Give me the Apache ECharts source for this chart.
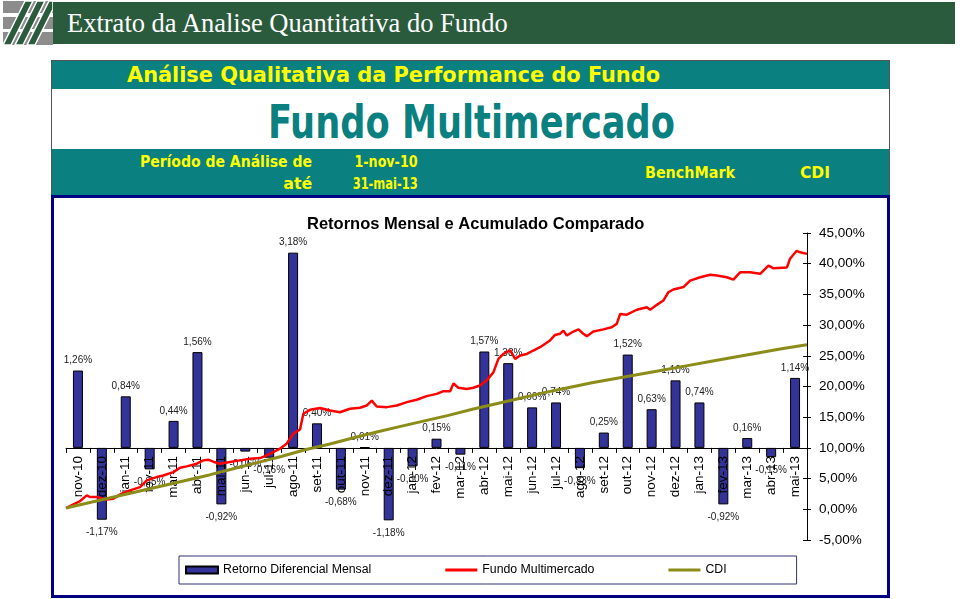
<!DOCTYPE html>
<html lang="pt">
<head>
<meta charset="utf-8">
<title>Extrato da Analise Quantitativa do Fundo</title>
<script src="https://cdn.jsdelivr.net/npm/echarts@6.0.0/dist/echarts.min.js"></script>
<style>
html,body{margin:0;padding:0;background:#fff}
body{width:960px;height:599px;position:relative;overflow:hidden}
.a{position:absolute;white-space:nowrap}
.fit{display:inline-block}
#hdrband{left:53px;top:2px;width:902px;height:42px;background:#2b5b3d}
#hdrtxt{left:67px;top:2px;height:42px;line-height:42px;color:#fff;font-family:"Liberation Serif","Times New Roman",serif;font-size:26.5px}
.teal{background:#0a8080}
.y{color:#ffff00;font-family:"DejaVu Sans Condensed","DejaVu Sans",sans-serif;font-weight:bold;font-stretch:condensed}
#box{left:51px;top:60px;width:839px;height:137px;box-sizing:border-box;border:1px solid #555}
#frame{left:51px;top:195px;width:839px;height:403px;box-sizing:border-box;border:3px solid #000080}
#chart{left:0;top:0;width:960px;height:599px}
</style>
</head>
<body>
<svg class="a" style="left:3px;top:1px" width="50" height="44" viewBox="0 0 50 44">
  <rect width="50" height="44" fill="#8c8c8c"/>
  <rect y="12" width="50" height="4" fill="#fff"/>
  <rect y="28" width="50" height="3" fill="#fff"/>
  <polygon points="0,44 8,44 30,0 22,0" fill="#2b5b3d" stroke="#fff" stroke-width="1.5"/>
  <polygon points="12,44 20,44 42,0 34,0" fill="#2b5b3d" stroke="#fff" stroke-width="1.5"/>
  <polygon points="24,44 32,44 50,8 50,0 46,0" fill="#2b5b3d" stroke="#fff" stroke-width="1.5"/>
</svg>
<div id="hdrband" class="a"></div>
<div id="hdrtxt" class="a">Extrato da Analise Quantitativa do Fundo</div>

<div id="box" class="a"></div>
<div class="a teal" style="left:52px;top:61px;width:837px;height:28px"></div>
<div class="a y" style="left:127px;top:61px;height:28px;line-height:28px;font-size:21px"><span class="fit" data-w="533" data-o="left">Análise Qualitativa da Performance do Fundo</span></div>
<div class="a" style="left:268px;top:96px;height:52px;line-height:52px;font-size:46px;color:#0a8080;font-family:'DejaVu Sans Condensed','DejaVu Sans',sans-serif;font-weight:bold;font-stretch:condensed"><span class="fit" data-w="407" data-o="left">Fundo Multimercado</span></div>
<div class="a teal" style="left:52px;top:149px;width:837px;height:47px"></div>
<div class="a y" style="right:648px;top:152px;height:20px;line-height:20px;font-size:16px"><span class="fit" data-w="172" data-o="right">Período de Análise de</span></div>
<div class="a y" style="right:648px;top:174px;height:20px;line-height:20px;font-size:16px"><span class="fit" data-w="29" data-o="right">até</span></div>
<div class="a y" style="right:542px;top:152px;height:20px;line-height:20px;font-size:16px"><span class="fit" data-w="63" data-o="right">1-nov-10</span></div>
<div class="a y" style="right:542px;top:174px;height:20px;line-height:20px;font-size:16px"><span class="fit" data-w="65" data-o="right">31-mai-13</span></div>
<div class="a y" style="left:645px;top:163px;height:20px;line-height:20px;font-size:16px"><span class="fit" data-w="90" data-o="left">BenchMark</span></div>
<div class="a y" style="left:800px;top:163px;height:20px;line-height:20px;font-size:16px"><span class="fit" data-w="30" data-o="left">CDI</span></div>

<div id="frame" class="a"></div>
<div id="chart" class="a"></div>

<script>
// ---- dados ----
const meses = ['nov-10','dez-10','jan-11','fev-11','mar-11','abr-11','mai-11','jun-11','jul-11','ago-11',
  'set-11','out-11','nov-11','dez-11','jan-12','fev-12','mar-12','abr-12','mai-12','jun-12',
  'jul-12','ago-12','set-12','out-12','nov-12','dez-12','jan-13','fev-13','mar-13','abr-13','mai-13'];

const retornoDiferencial = [1.26,-1.17,0.84,-0.35,0.44,1.56,-0.92,-0.06,-0.16,3.18,
  0.40,-0.68,0.01,-1.18,-0.30,0.15,-0.11,1.57,1.38,0.66,
  0.74,-0.33,0.25,1.52,0.63,1.10,0.74,-0.92,0.16,-0.15,1.14];

// Fundo Multimercado acumulado (posição em meses desde 1-nov-10)
const fundoMes = [0,0.31,0.59,0.87,1.00,1.28,1.70,1.98,2.33,2.68,3.10,3.38,3.79,4.07,4.49,4.77,5.05,5.47,5.74,5.95,
  6.16,6.44,6.86,7.28,7.70,8.12,8.40,8.67,8.95,9.23,9.51,9.79,9.93,10.21,10.63,11.05,11.46,11.88,12.30,12.58,
  12.79,13.00,13.42,13.84,14.26,14.67,15.09,15.51,15.79,16.07,16.21,16.41,16.77,17.04,17.32,17.60,17.88,18.09,18.30,18.58,
  18.79,19.00,19.28,19.55,19.83,20.25,20.46,20.67,20.81,20.95,21.23,21.44,21.64,21.79,22.06,22.48,22.83,23.04,23.18,23.46,
  23.88,24.30,24.44,24.72,24.99,25.20,25.41,25.83,26.11,26.53,26.95,27.23,27.64,27.92,28.20,28.62,29.04,29.39,29.60,30.16,
  30.29,30.57,30.71,31.0];
const fundoAcum = [0.2,0.8,1.34,2.27,2.0,2.0,1.6,1.73,2.55,3.08,3.62,4.7,5.25,5.5,6.06,6.78,6.99,7.43,7.97,8.08,
  7.75,7.43,7.7,7.97,8.24,8.34,8.78,9.32,9.87,10.68,12.3,13.0,15.56,16.2,16.5,16.1,15.8,16.38,16.54,16.9,
  17.7,16.75,16.64,16.9,17.45,17.84,18.43,18.8,19.24,19.24,20.5,19.8,19.6,19.8,20.17,21.0,22.3,24.5,25.3,25.9,
  24.5,25.05,25.3,25.86,26.4,27.5,28.4,28.6,29.1,28.3,28.95,29.3,28.6,28.2,28.95,29.3,29.66,30.2,31.8,31.7,
  32.5,32.9,32.5,33.3,34.0,35.35,35.8,36.2,37.25,37.8,38.2,38.07,37.8,37.4,38.6,38.6,38.35,39.7,39.25,39.4,
  40.8,42.1,41.86,41.6];

// CDI acumulado (fim de cada mês)
const cdiMes = [0,1,2,3,4,5,6,7,8,9,10,11,12,13,14,15,16,17,18,19,20,21,22,23,24,25,26,27,28,29,30,31];
const cdiAcum = [0.2,1.1,2.0,2.9,3.8,4.7,5.6,6.6,7.6,8.6,9.7,10.6,11.6,12.6,13.5,14.4,15.3,16.3,17.2,18.1,
  19.0,19.8,20.6,21.3,22.0,22.7,23.4,24.1,24.8,25.5,26.2,26.8];

const nomes = ['Retorno Diferencial Mensal','Fundo Multimercado','CDI'];

// ---- ajuste de largura dos textos do cabeçalho ----
document.querySelectorAll('.fit').forEach(el => {
  const w = el.getBoundingClientRect().width;
  const t = +el.dataset.w;
  el.style.transformOrigin = (el.dataset.o === 'right' ? '100%' : '0') + ' 50%';
  el.style.transform = 'scaleX(' + (t / w) + ')';
});

// ---- gráfico ----
const fmt = v => v.toFixed(2).replace('.', ',') + '%';
const barData = retornoDiferencial.map(v => ({
  value: v,
  label: { position: v < 0 ? 'bottom' : 'top', distance: v < 0 ? 8 : 5 }
}));

const gridTop = 233, gridBottom = 59, gridHeight = 599 - gridTop - gridBottom;
const barMin = -1.5, barMax = 3.5;
// posição do eixo de categorias sobre o zero das barras
const zeroOffset = -gridHeight * (0 - barMin) / (barMax - barMin);
const lineIcon = 'path://M0,0H32V3H0Z';

const chart = echarts.init(document.getElementById('chart'), null, { renderer: 'canvas' });
chart.setOption({
  animation: false,
  backgroundColor: 'transparent',
  textStyle: { fontFamily: '"Liberation Sans", Arial, sans-serif' },
  title: {
    text: 'Retornos Mensal e Acumulado Comparado',
    left: 302, top: 211,
    textStyle: { fontSize: 16.5, fontWeight: 'bold', color: '#000', fontFamily: '"Liberation Sans", Arial, sans-serif' }
  },
  legend: {
    left: 179, top: 556,
    itemWidth: 32, itemHeight: 7, itemGap: 74,
    padding: [8, 70, 8, 6],
    borderColor: '#33337a', borderWidth: 1,
    symbolKeepAspect: true,
    textStyle: { fontSize: 12.3, color: '#000' },
    data: [
      { name: nomes[0], icon: 'rect' },
      { name: nomes[1], icon: lineIcon, itemStyle: { color: '#ff0000', borderWidth: 0 } },
      { name: nomes[2], icon: lineIcon, itemStyle: { color: '#8c8c1a', borderWidth: 0 } }
    ]
  },
  grid: { left: 66, right: 153, top: gridTop, bottom: gridBottom },
  xAxis: [
    {
      type: 'category', data: meses, gridIndex: 0, z: 3,
      position: 'bottom', offset: zeroOffset,
      axisLine: { onZero: false, lineStyle: { color: '#000', width: 1 } },
      axisTick: { show: true, length: 5, lineStyle: { color: '#000' } },
      axisLabel: { interval: 0, rotate: 90, fontSize: 13.5, color: '#000', margin: 8 },
      splitLine: { show: false }
    },
    { type: 'value', min: 0, max: 31, show: false }
  ],
  yAxis: [
    { type: 'value', min: barMin, max: barMax, show: false },
    {
      type: 'value', position: 'right', min: -5, max: 45, interval: 5,
      axisLine: { show: true, lineStyle: { color: '#000', width: 1 } },
      axisTick: { show: true, length: 4, lineStyle: { color: '#000' } },
      axisLabel: { formatter: fmt, fontSize: 13.5, color: '#000', margin: 12 },
      splitLine: { show: false }
    },
    {
      type: 'value', position: 'right', min: -5, max: 45, interval: 5,
      axisLine: { show: false },
      axisTick: { show: true, inside: true, length: 4, lineStyle: { color: '#000' } },
      axisLabel: { show: false },
      splitLine: { show: false }
    }
  ],
  series: [
    {
      name: nomes[0], type: 'bar', xAxisIndex: 0, yAxisIndex: 0, z: 2,
      barWidth: 10,
      itemStyle: { color: '#333399', borderColor: '#000', borderWidth: 1 },
      label: {
        show: true, fontSize: 10, color: '#222',
        formatter: p => fmt(p.value)
      },
      data: barData
    },
    {
      name: nomes[1], type: 'line', xAxisIndex: 1, yAxisIndex: 1, z: 4,
      symbol: 'none', showSymbol: false,
      lineStyle: { color: '#ff0000', width: 2.5 },
      itemStyle: { color: '#ff0000' },
      data: fundoMes.map((t, i) => [t, fundoAcum[i]])
    },
    {
      name: nomes[2], type: 'line', xAxisIndex: 1, yAxisIndex: 1, z: 5,
      symbol: 'none', showSymbol: false,
      lineStyle: { color: '#8c8c1a', width: 3 },
      itemStyle: { color: '#8c8c1a' },
      data: cdiMes.map((t, i) => [t, cdiAcum[i]])
    }
  ]
});
</script>
</body>
</html>
